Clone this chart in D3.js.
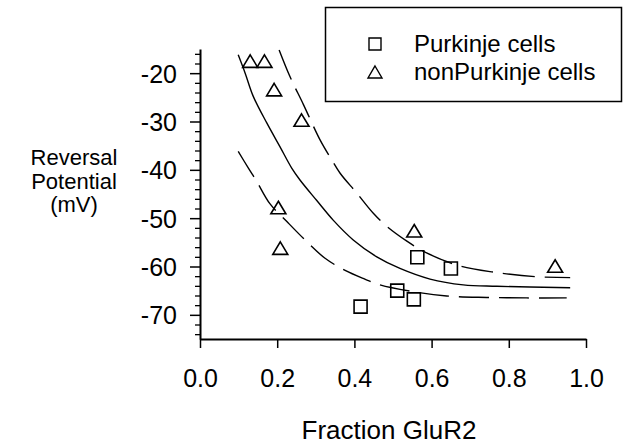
<!DOCTYPE html>
<html>
<head>
<meta charset="utf-8">
<script src="https://cdn.jsdelivr.net/npm/d3@7"></script>
<style>
  body { margin: 0; background: #fff; }
  text { font-family: "Liberation Sans", Arial, sans-serif; fill: #000; }
</style>
</head>
<body>
<svg width="625" height="445"></svg>
<script>
// data
const purkinjeX = [0.416, 0.511, 0.554, 0.563, 0.650];
const purkinjeY = [-68.3, -65.0, -66.8, -58.1, -60.4];

const nonPurkinjeX = [0.130, 0.167, 0.192, 0.263, 0.203, 0.208, 0.555, 0.920];
const nonPurkinjeY = [-17.5, -17.5, -23.4, -29.7, -47.8, -56.2, -52.6, -59.9];

// fitted curve (solid) and its two dashed bounds
const fitX = [0.099, 0.117, 0.138, 0.173, 0.207, 0.238, 0.259, 0.302, 0.345, 0.397, 0.458, 0.518, 0.596, 0.682, 0.769, 0.959];
const fitY = [-16.2, -20.0, -24.8, -30.3, -35.2, -39.7, -42.1, -46.3, -50.4, -54.5, -58.0, -60.4, -62.6, -63.8, -64.1, -64.4];

const upperX = [0.205, 0.233, 0.268, 0.311, 0.341, 0.363, 0.406, 0.449, 0.484, 0.535, 0.587, 0.674, 0.764, 0.868, 0.959];
const upperY = [-15.2, -20.7, -26.5, -33.8, -37.9, -40.7, -44.8, -49.0, -51.7, -54.7, -57.2, -59.9, -61.2, -62.1, -62.3];

const lowerX = [0.099, 0.125, 0.147, 0.181, 0.225, 0.272, 0.324, 0.376, 0.427, 0.466, 0.552, 0.639, 0.743, 0.846, 0.950];
const lowerY = [-36.2, -39.6, -42.4, -47.0, -50.7, -54.5, -58.3, -60.8, -62.6, -63.8, -65.2, -66.1, -66.4, -66.5, -66.5];

const xTicks = [0, 0.2, 0.4, 0.6, 0.8, 1.0];
const yTicks = [-20, -30, -40, -50, -60, -70];
const yMinorTicks = [-16, -18, -22, -24, -26, -28, -32, -34, -36, -38, -42, -44, -46, -48,
  -52, -54, -56, -58, -62, -64, -66, -68, -72, -74];

const legendLabels = ["Purkinje cells", "nonPurkinje cells"];

const svg = d3.select("svg");

const x = d3.scaleLinear().domain([0, 1]).range([200, 586]);
const y = d3.scaleLinear().domain([-75, -15]).range([339, 49]);

// curves
const line = d3.line()
  .x((d) => x(d[0]))
  .y((d) => y(d[1]))
  .curve(d3.curveCatmullRom.alpha(0.5));

const curves = [
  { pts: d3.zip(fitX, fitY), dash: null },
  { pts: d3.zip(upperX, upperY), dash: "32,10" },
  { pts: d3.zip(lowerX, lowerY), dash: "30,10" },
];

svg.selectAll("path.curve")
  .data(curves)
  .enter()
  .append("path")
  .attr("class", "curve")
  .attr("fill", "none")
  .attr("stroke", "#000")
  .attr("stroke-width", 1.4)
  .attr("stroke-dasharray", (d) => d.dash)
  .attr("d", (d) => line(d.pts));

// axes
const xAxis = svg.append("g")
  .attr("transform", "translate(0,339)")
  .call(d3.axisBottom(x).tickValues(xTicks).tickSize(9).tickSizeOuter(0).tickFormat(d3.format(".1f")));

xAxis.select(".domain").attr("stroke-width", 2);
xAxis.selectAll(".tick line").attr("stroke-width", 1.5);
xAxis.selectAll(".tick text")
  .attr("y", 48)
  .attr("dy", 0)
  .style("font-size", "25px");

const yMinor = svg.append("g")
  .attr("transform", "translate(200,0)")
  .call(d3.axisLeft(y).tickValues(yMinorTicks).tickSize(5).tickSizeOuter(0).tickFormat(""));
yMinor.select(".domain").remove();
yMinor.selectAll(".tick line").attr("stroke-width", 1.3);

// plain hyphen for the minus sign, as in the original figure
const yAxis = svg.append("g")
  .attr("transform", "translate(200,0)")
  .call(d3.axisLeft(y).tickValues(yTicks).tickSize(10).tickSizeOuter(0).tickFormat((d) => String(d)));

yAxis.select(".domain").attr("stroke-width", 2);
yAxis.selectAll(".tick line").attr("stroke-width", 1.5);
yAxis.selectAll(".tick text")
  .attr("x", -23)
  .attr("dy", "0.36em")
  .style("font-size", "25px");

// axis titles
svg.append("text")
  .attr("x", 389)
  .attr("y", 439)
  .attr("text-anchor", "middle")
  .style("font-size", "26px")
  .text("Fraction GluR2");

const yTitle = svg.append("text")
  .attr("text-anchor", "middle")
  .style("font-size", "22px");
["Reversal", "Potential", "(mV)"].forEach((t, i) => {
  yTitle.append("tspan")
    .attr("x", 74)
    .attr("y", 165 + i * 23.5)
    .text(t);
});

// markers
const squarePath = (s) => `M${-s / 2},${-s / 2}h${s}v${s}h${-s}Z`;
const trianglePath = (w, h) => `M0,${-h / 2}L${w / 2},${h / 2}L${-w / 2},${h / 2}Z`;

svg.selectAll("path.purk")
  .data(d3.zip(purkinjeX, purkinjeY))
  .enter()
  .append("path")
  .attr("class", "purk")
  .attr("transform", (d) => `translate(${x(d[0])},${y(d[1])})`)
  .attr("d", squarePath(13))
  .attr("fill", "none")
  .attr("stroke", "#000")
  .attr("stroke-width", 1.6);

svg.selectAll("path.nonpurk")
  .data(d3.zip(nonPurkinjeX, nonPurkinjeY))
  .enter()
  .append("path")
  .attr("class", "nonpurk")
  .attr("transform", (d) => `translate(${x(d[0])},${y(d[1])})`)
  .attr("d", trianglePath(15, 12.5))
  .attr("fill", "none")
  .attr("stroke", "#000")
  .attr("stroke-width", 1.6);

// legend
const legend = svg.append("g");
legend.append("rect")
  .attr("x", 325.5)
  .attr("y", 7.5)
  .attr("width", 296)
  .attr("height", 94)
  .attr("fill", "#fff")
  .attr("stroke", "#000")
  .attr("stroke-width", 1.5);

legendLabels.forEach((lab, i) => {
  const cy = 44 + i * 28;
  legend.append("path")
    .attr("transform", `translate(375,${cy})`)
    .attr("d", i === 0 ? squarePath(12) : trianglePath(14, 12))
    .attr("fill", "none")
    .attr("stroke", "#000")
    .attr("stroke-width", 1.4);
  legend.append("text")
    .attr("x", 414)
    .attr("y", cy + 8)
    .style("font-size", "24px")
    .text(lab);
});
</script>
</body>
</html>
